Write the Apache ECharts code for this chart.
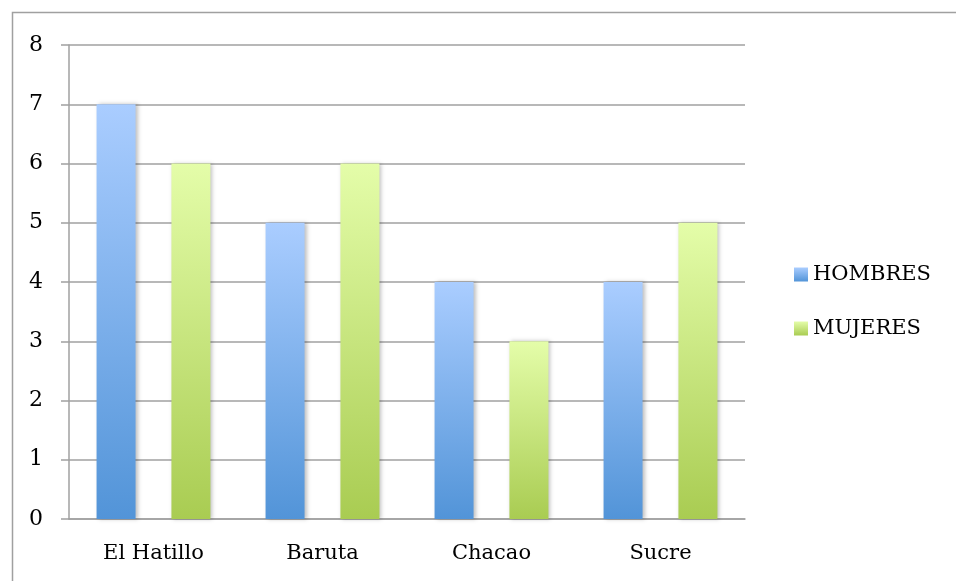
<!DOCTYPE html>
<html>
<head>
<meta charset="utf-8">
<script src="https://cdn.jsdelivr.net/npm/echarts@6/dist/echarts.min.js"></script>
<style>
  html, body { margin: 0; padding: 0; background: #fff; }
</style>
</head>
<body>
<div id="myChart" style="width: 956px; height: 581px;"></div>
<script>
  // categorías y valores
  var municipios = ['El Hatillo', 'Baruta', 'Chacao', 'Sucre'];
  var hombres = [7, 5, 4, 4];
  var mujeres = [6, 6, 3, 5];
  var yTicks = [0, 1, 2, 3, 4, 5, 6, 7, 8];

  var fuente = 'DejaVu Serif';
  var gris = '#a0a0a0';

  function degradado(arriba, abajo) {
    return new echarts.graphic.LinearGradient(0, 0, 0, 1, [
      { offset: 0, color: arriba },
      { offset: 1, color: abajo }
    ]);
  }

  var myChart = echarts.init(document.getElementById('myChart'));
  myChart.setOption({
    animation: false,
    graphic: [{
      type: 'rect',
      left: 10,
      top: 10,
      shape: { width: 1000, height: 1000 },
      style: { fill: 'none', stroke: gris, lineWidth: 1.5 },
      silent: true
    }],
    grid: {
      left: 69,
      top: 45,
      width: 676,
      height: 474
    },
    legend: {
      orient: 'vertical',
      left: 789,
      top: 259,
      itemWidth: 14,
      itemHeight: 14,
      itemGap: 33,
      icon: 'rect',
      textStyle: { fontFamily: fuente, fontSize: 21, color: '#000' },
      data: ['HOMBRES', 'MUJERES']
    },
    xAxis: {
      type: 'category',
      data: municipios,
      axisLine: { lineStyle: { color: gris, width: 1.5 } },
      axisTick: { length: 6, lineStyle: { color: gris, width: 1.5 } },
      axisLabel: { fontFamily: fuente, fontSize: 21, color: '#000', margin: 24 }
    },
    yAxis: {
      type: 'value',
      min: yTicks[0],
      max: yTicks[yTicks.length - 1],
      interval: 1,
      axisLine: { show: true, lineStyle: { color: gris, width: 1.5 } },
      axisTick: { show: true, length: 8, lineStyle: { color: gris, width: 1.5 } },
      splitLine: { lineStyle: { color: gris, width: 1.5 } },
      axisLabel: { fontFamily: fuente, fontSize: 22, color: '#000', margin: 26, padding: [6, 0, 0, 0] }
    },
    series: [
      {
        name: 'HOMBRES',
        type: 'bar',
        data: hombres,
        barWidth: 39,
        barGap: '92%',
        itemStyle: {
          color: degradado('#aacdff', '#5294d8'),
          shadowColor: 'rgba(0,0,0,0.25)',
          shadowBlur: 4,
          shadowOffsetX: 2
        }
      },
      {
        name: 'MUJERES',
        type: 'bar',
        data: mujeres,
        barWidth: 39,
        itemStyle: {
          color: degradado('#e4fda9', '#a9cc52'),
          shadowColor: 'rgba(0,0,0,0.25)',
          shadowBlur: 4,
          shadowOffsetX: 2
        }
      }
    ]
  });
</script>
</body>
</html>
